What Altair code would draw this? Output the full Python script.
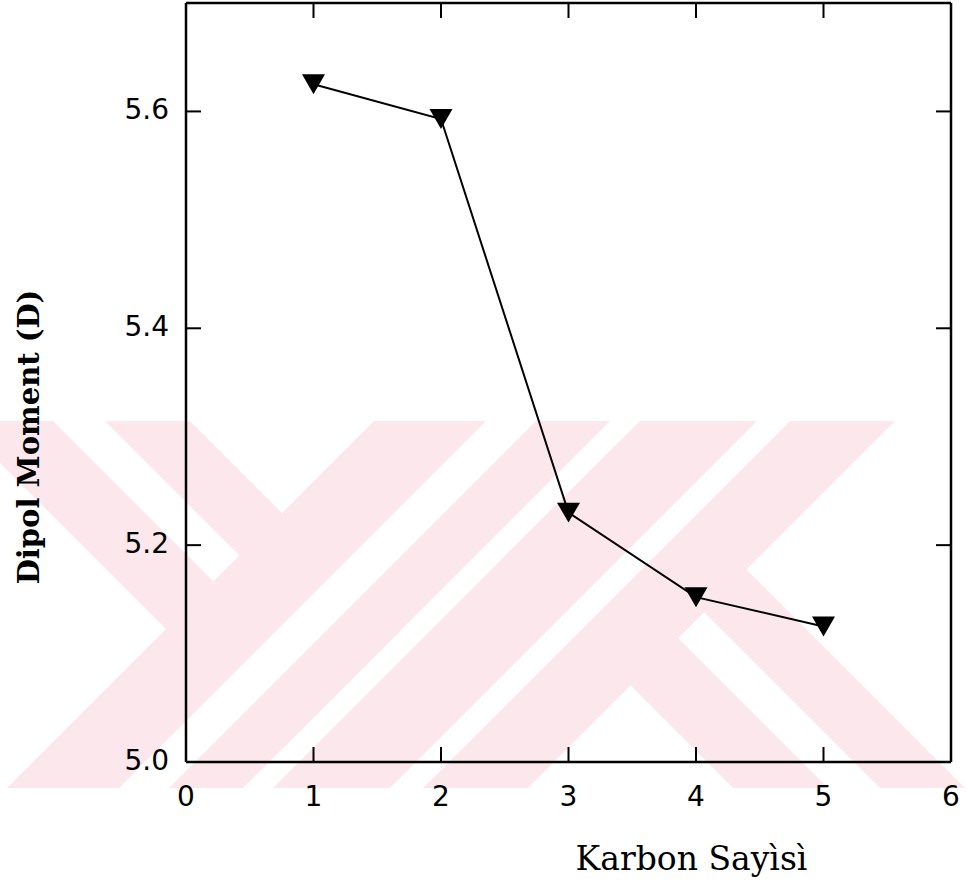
import altair as alt
import pandas as pd

# ---- data -------------------------------------------------------------
carbon = [1, 2, 3, 4, 5]
dipole = [5.625, 5.593, 5.230, 5.152, 5.125]

x_labels = [0, 1, 2, 3, 4, 5, 6]
y_labels = [5.0, 5.2, 5.4, 5.6]
x_inner_ticks = [1, 2, 3, 4, 5]
y_inner_ticks = [5.2, 5.4, 5.6]

x_title = "Karbon Sayìsì"
y_title = "Dipol Moment (D)"

# ---- layout -----------------------------------------------------------
W, H = 765, 759
PAD = {"left": 186, "top": 3, "right": 16, "bottom": 128}
TICK = 15
PINK = "#fce8ec"

LABEL_FONT = "DejaVu Sans"
TITLE_FONT = "DejaVu Serif"

# background emblem: diagonal bars in page pixels (drawn in this order)
emblem = [
    (PINK,    [(0, 421), (190, 421), (400, 631), (284, 747), (0, 463)]),
    ("white", [(53, 421), (105, 421), (239.5, 555.5), (213.5, 581.5)]),
    (PINK,    [(619, 442), (967, 790), (967, 788), (733, 788), (503, 558)]),
    ("white", [(704, 612), (880, 788), (828, 788), (678, 638)]),
    (PINK,    [(374, 421), (610, 421), (243, 788), (7, 788)]),
    ("white", [(486, 421), (536, 421), (169, 788), (119, 788)]),
    (PINK,    [(640, 421), (895, 421), (528, 788), (273, 788)]),
    ("white", [(757, 421), (790, 421), (423, 788), (390, 788)]),
]


def to_path(pts):
    ox, oy = PAD["left"], PAD["top"]
    cmds = [f"{'M' if i == 0 else 'L'}{x - ox:.1f},{y - oy:.1f}" for i, (x, y) in enumerate(pts)]
    return " ".join(cmds) + " Z"


emblem_df = pd.DataFrame({
    "part": list(range(len(emblem))),
    "path": [to_path(p) for _, p in emblem],
    "fill": [c for c, _ in emblem],
})

df = pd.DataFrame({"carbon": carbon, "dipole": dipole})
xs = alt.Scale(domain=[0, 6], nice=False, zero=False)
ys = alt.Scale(domain=[5.0, 5.7], nice=False, zero=False)


def X(f="carbon"):
    return alt.X(f"{f}:Q", scale=xs, axis=None)


def Y(f="dipole"):
    return alt.Y(f"{f}:Q", scale=ys, axis=None)


emblem_layer = alt.Chart(emblem_df).mark_point(
    filled=True, opacity=1, strokeWidth=0, size=4
).encode(
    x=alt.value(0), y=alt.value(0),
    shape=alt.Shape("path:N", scale=None, legend=None),
    color=alt.Color("fill:N", scale=None, legend=None),
)

xt = pd.DataFrame({"carbon": x_inner_ticks})
yt = pd.DataFrame({"dipole": y_inner_ticks})
rule = dict(color="black", strokeWidth=2)
frame_rule = dict(color="black", strokeWidth=2.5)

bottom_ticks = alt.Chart(xt).mark_rule(**rule).encode(
    x=X(), y=alt.value(H), y2=alt.value(H - TICK))
top_ticks = alt.Chart(xt).mark_rule(**rule).encode(
    x=X(), y=alt.value(0), y2=alt.value(TICK))
left_ticks = alt.Chart(yt).mark_rule(**rule).encode(
    y=Y(), x=alt.value(0), x2=alt.value(TICK))
right_ticks = alt.Chart(yt).mark_rule(**rule).encode(
    y=Y(), x=alt.value(W), x2=alt.value(W - TICK))

# plot frame
one = pd.DataFrame({"k": [0]})
frame = [
    alt.Chart(one).mark_rule(**frame_rule).encode(x=alt.value(0), y=alt.value(0), y2=alt.value(H)),
    alt.Chart(one).mark_rule(**frame_rule).encode(x=alt.value(W), y=alt.value(0), y2=alt.value(H)),
    alt.Chart(one).mark_rule(**frame_rule).encode(y=alt.value(0), x=alt.value(0), x2=alt.value(W)),
    alt.Chart(one).mark_rule(**frame_rule).encode(y=alt.value(H), x=alt.value(0), x2=alt.value(W)),
]

# tick labels
xl = pd.DataFrame({"carbon": x_labels})
yl = pd.DataFrame({"dipole": y_labels})
x_tick_labels = alt.Chart(xl).mark_text(
    font=LABEL_FONT, fontSize=28, color="black", align="center", baseline="alphabetic"
).encode(x=X(), y=alt.value(H + 44), text=alt.Text("carbon:Q", format="d"))
y_tick_labels = alt.Chart(yl).mark_text(
    font=LABEL_FONT, fontSize=28, color="black", align="right", baseline="middle"
).encode(y=Y(), x=alt.value(-17), text=alt.Text("dipole:Q", format=".1f"))

# axis titles
x_title_layer = alt.Chart(one).mark_text(
    font=TITLE_FONT, fontSize=33, color="black",
    align="center", baseline="alphabetic", text=x_title,
).encode(x=alt.value(505.5), y=alt.value(H + 108))
y_title_layer = alt.Chart(one).mark_text(
    font=TITLE_FONT, fontSize=29, fontWeight="bold", color="black",
    align="center", baseline="middle", angle=270, text=y_title,
).encode(x=alt.value(-156), y=alt.value(434))

line = alt.Chart(df).mark_line(color="black", strokeWidth=2).encode(x=X(), y=Y())
points = alt.Chart(df).mark_point(
    shape="triangle-down", filled=True, size=529, color="black", opacity=1
).encode(x=X(), y=Y())

chart = alt.layer(
    emblem_layer, line, points,
    bottom_ticks, top_ticks, left_ticks, right_ticks, *frame,
    x_tick_labels, y_tick_labels, x_title_layer, y_title_layer,
).properties(
    width=W, height=H,
    autosize=alt.AutoSizeParams(type="none"),
    padding=PAD,
    background="white",
).configure_view(stroke=None)

chart.save("out.html", embed_options={"renderer": "svg", "actions": False})
